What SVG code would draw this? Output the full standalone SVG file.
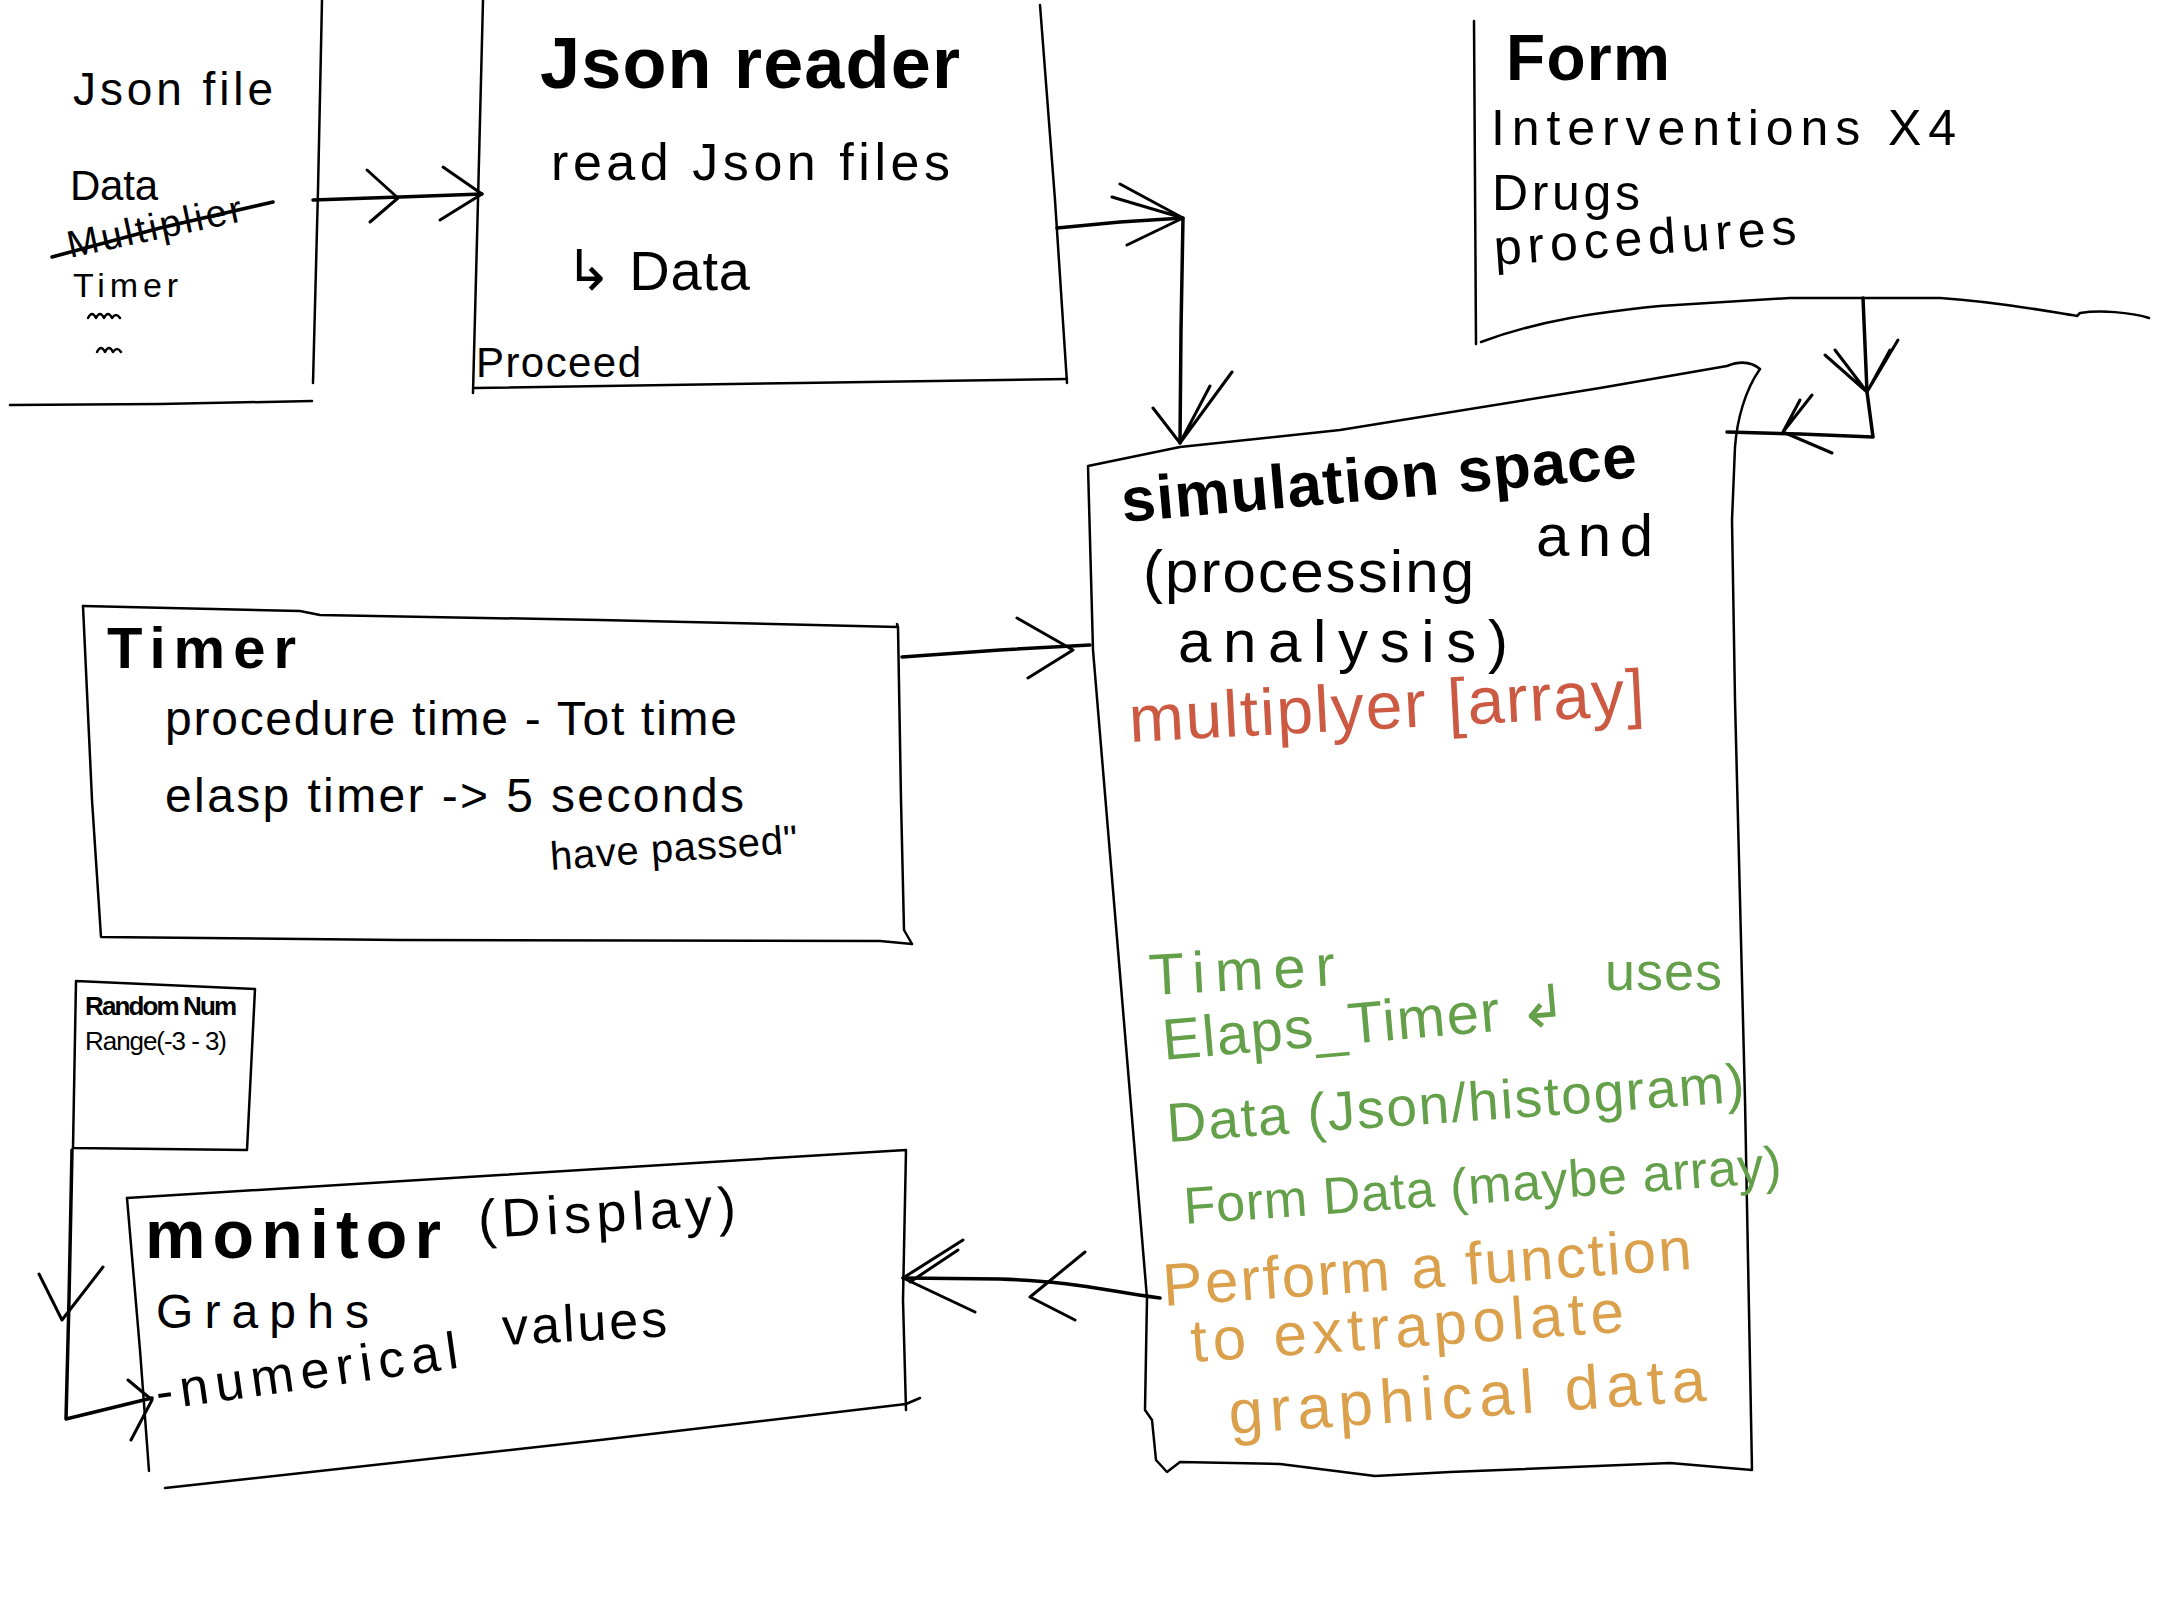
<svg xmlns="http://www.w3.org/2000/svg" width="2160" height="1620" viewBox="0 0 2160 1620">
<style>
.edge{fill:none;stroke:#000;stroke-width:2.5;stroke-linecap:round;stroke-linejoin:round}
.conn{fill:none;stroke:#000;stroke-width:3.5;stroke-linecap:round;stroke-linejoin:round}
.head{fill:none;stroke:#000;stroke-width:3;stroke-linecap:round;stroke-linejoin:round}
text{font-family:"Liberation Sans","DejaVu Sans",sans-serif;fill:#000}
.b{font-weight:bold}
.red{fill:#cc5a43}
.green{fill:#64a04a}
.orange{fill:#dba04c}
</style>
<rect width="2160" height="1620" fill="#fff"/>

<g id="json-file">
<path class="edge" d="M322,0 L318,190 L313,383"/>
<path class="edge" d="M10,405 L160,404 L312,401"/>
<text x="73" y="105" font-size="46" textLength="200" lengthAdjust="spacing">Json file</text>
<text x="70" y="200" font-size="42" textLength="88" lengthAdjust="spacing">Data</text>
<text x="70" y="258" font-size="38" textLength="178" lengthAdjust="spacing" transform="rotate(-12 70 258)">Multiplier</text>
<path class="edge" d="M52,257 L160,228 L273,202" style="stroke-width:3.5"/>
<text x="73" y="297" font-size="34" textLength="105" lengthAdjust="spacing">Timer</text>
<path class="edge" d="M88,318 q4,-8 8,0 q4,-8 8,0 q4,-8 8,0 q4,-6 8,0"/>
<path class="edge" d="M97,352 q4,-8 8,0 q4,-8 8,0 q4,-6 8,0"/>
</g>

<g id="json-reader">
<path class="edge" d="M483,0 L478,200 L473,393"/>
<path class="edge" d="M1040,5 L1055,200 L1067,383"/>
<path class="edge" d="M475,388 L800,383 L1067,379"/>
<text class="b" x="540" y="88" font-size="72" textLength="420" lengthAdjust="spacing">Json reader</text>
<text x="551" y="180" font-size="52" textLength="399" lengthAdjust="spacing">read Json files</text>
<text x="565" y="290" font-size="56" textLength="185" lengthAdjust="spacing">↳ Data</text>
<text x="476" y="377" font-size="42" textLength="165" lengthAdjust="spacing">Proceed</text>
</g>

<g id="form">
<path class="edge" d="M1474,21 L1476,344"/>
<path class="edge" d="M1481,342 C1540,320 1600,312 1660,306 L1790,298 L1940,298 C2000,302 2040,310 2077,316 L2080,313 C2100,310 2130,312 2149,318"/>
<text class="b" x="1506" y="80" font-size="64" textLength="164" lengthAdjust="spacing">Form</text>
<text x="1491" y="145" font-size="50" textLength="465" lengthAdjust="spacing">Interventions X4</text>
<text x="1492" y="210" font-size="50" textLength="148" lengthAdjust="spacing">Drugs</text>
<text x="1495" y="265" font-size="50" textLength="303" lengthAdjust="spacing" transform="rotate(-4 1495 265)">procedures</text>
</g>

<g id="simulation-space">
<path class="edge" d="M1088,466 L1180,447 L1340,430 L1600,388 L1727,366 Q1747,358 1760,369 C1745,390 1737,420 1735,447 L1732,520 L1735,700 L1745,1100 L1752,1470 L1670,1463 L1450,1472 L1375,1476 L1280,1464 L1180,1462 L1167,1472 L1156,1460 L1152,1420 L1145,1410 L1147,1298 L1093,650 Z"/>
<text class="b" x="1123" y="522" font-size="62" textLength="517" lengthAdjust="spacing" transform="rotate(-5 1123 522)">simulation space</text>
<text x="1143" y="592" font-size="60" textLength="331" lengthAdjust="spacing">(processing</text>
<text x="1536" y="556" font-size="60" textLength="117" lengthAdjust="spacing">and</text>
<text x="1178" y="662" font-size="60" textLength="330" lengthAdjust="spacing">analysis)</text>
<text class="red" x="1130" y="742" font-size="66" textLength="516" lengthAdjust="spacing" transform="rotate(-3 1130 742)">multiplyer [array]</text>
<text class="green" x="1150" y="995" font-size="58" textLength="186" lengthAdjust="spacing" transform="rotate(-3 1150 995)">Timer</text>
<text class="green" x="1164" y="1060" font-size="58" textLength="406" lengthAdjust="spacing" transform="rotate(-5 1164 1060)">Elaps_Timer ↲</text>
<text class="green" x="1605" y="990" font-size="54" textLength="117" lengthAdjust="spacing">uses</text>
<text class="green" x="1168" y="1142" font-size="55" textLength="579" lengthAdjust="spacing" transform="rotate(-4 1168 1142)">Data (Json/histogram)</text>
<text class="green" x="1185" y="1224" font-size="52" textLength="599" lengthAdjust="spacing" transform="rotate(-4 1185 1224)">Form Data (maybe array)</text>
<text class="orange" x="1164" y="1306" font-size="60" textLength="530" lengthAdjust="spacing" transform="rotate(-4 1164 1306)">Perform a function</text>
<text class="orange" x="1192" y="1362" font-size="60" textLength="434" lengthAdjust="spacing" transform="rotate(-4 1192 1362)">to extrapolate</text>
<text class="orange" x="1230" y="1434" font-size="62" textLength="478" lengthAdjust="spacing" transform="rotate(-4 1230 1434)">graphical data</text>
</g>

<g id="timer">
<path class="edge" d="M83,606 L300,611 L320,615 L600,620 L898,627 L901,800 L904,930 L912,944 M898,627 L897,624"/>
<path class="edge" d="M83,606 L92,800 L101,937 L400,940 L880,941 L912,944"/>
<text class="b" x="107" y="668" font-size="58" textLength="189" lengthAdjust="spacing">Timer</text>
<text x="165" y="735" font-size="48" textLength="572" lengthAdjust="spacing">procedure time - Tot time</text>
<text x="165" y="812" font-size="48" textLength="579" lengthAdjust="spacing">elasp timer -&gt; 5 seconds</text>
<text x="551" y="870" font-size="40" textLength="248" lengthAdjust="spacing" transform="rotate(-4 551 870)">have passed"</text>
</g>

<g id="random-num">
<path class="edge" d="M76,981 L255,989 L247,1150 L73,1148 Z"/>
<text class="b" x="85" y="1015" font-size="26" textLength="152" lengthAdjust="spacing">Random Num</text>
<text x="85" y="1050" font-size="26" textLength="142" lengthAdjust="spacing">Range(-3 - 3)</text>
</g>

<g id="monitor">
<path class="edge" d="M127,1198 L500,1175 L906,1150 L903,1300 L906,1410 M920,1398 L906,1404 L600,1440 L165,1488"/>
<path class="edge" d="M127,1198 L140,1350 L149,1471"/>
<text class="b" x="145" y="1258" font-size="68" textLength="296" lengthAdjust="spacing">monitor</text>
<text x="479" y="1238" font-size="54" textLength="258" lengthAdjust="spacing" transform="rotate(-3 479 1238)">(Display)</text>
<text x="156" y="1328" font-size="48" textLength="213" lengthAdjust="spacing">Graphs</text>
<text x="158" y="1410" font-size="52" textLength="305" lengthAdjust="spacing" transform="rotate(-8 158 1410)">-numerical</text>
<text x="503" y="1345" font-size="52" textLength="165" lengthAdjust="spacing" transform="rotate(-3 503 1345)">values</text>
</g>

<g id="connectors">
<path class="conn" d="M313,200 L400,197 L482,194"/>
<path class="head" d="M367,170 L398,198 L370,222 M443,167 L482,194 L440,220"/>

<path class="conn" d="M1057,228 L1120,222 L1183,218 L1181,330 L1180,443"/>
<path class="head" d="M1112,197 L1183,218 L1127,245 M1120,184 L1183,218 M1153,408 L1180,443 L1232,372 M1210,386 L1180,443"/>

<path class="conn" d="M1863,298 L1867,392 L1873,437 L1800,434 L1727,432"/>
<path class="head" d="M1825,355 L1867,392 L1898,340 M1835,350 L1867,392 L1890,350 M1812,395 L1783,432 L1832,453 M1800,400 L1783,432"/>

<path class="conn" d="M902,657 L1000,650 L1090,645"/>
<path class="head" d="M1017,618 L1073,650 L1028,678"/>

<path class="conn" d="M1160,1298 C1100,1290 1080,1282 1000,1279 L903,1278"/>
<path class="head" d="M963,1240 L903,1278 L975,1312 M958,1250 L910,1282 M1085,1252 L1030,1297 L1075,1320"/>

<path class="conn" d="M72,1150 L69,1300 L66,1419 L152,1398"/>
<path class="head" d="M39,1274 L62,1320 L103,1267 M128,1380 L152,1400 L131,1440"/>
</g>
</svg>
